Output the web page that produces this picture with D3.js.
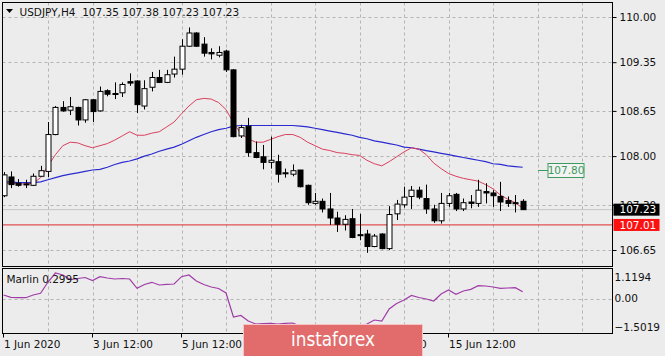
<!DOCTYPE html>
<html><head><meta charset="utf-8">
<script src="https://cdn.jsdelivr.net/npm/d3@7"></script>
<style>
html,body{margin:0;padding:0;background:#ececec;}
svg{display:block;}
text{font-family:"DejaVu Sans",Verdana,sans-serif;}
</style></head><body>
<svg id="c" width="665" height="356"></svg>
<script>
// ---------- data ----------
const barOpen = [107.43,107.70,107.61,107.60,107.58,107.71,107.78,108.31,108.70,108.66,
108.70,108.52,108.81,108.65,108.94,108.90,108.91,109.07,109.08,108.72,
108.99,109.13,109.06,109.18,109.25,109.58,109.77,109.61,109.49,109.45,
109.51,109.24,108.29,108.43,108.05,107.99,107.91,107.92,107.76,107.74,
107.80,107.58,107.32,107.35,107.24,107.11,107.02,107.10,106.87,106.88,
106.70,106.88,106.67,107.17,107.30,107.42,107.51,107.39,107.24,107.07,
107.32,107.45,107.24,107.34,107.32,107.49,107.47,107.42,107.36,107.33,107.35];
const barHigh = [107.77,107.78,107.67,107.66,107.75,107.86,108.49,108.72,108.79,108.85,
108.71,108.82,108.82,109.00,108.96,109.06,109.06,109.19,109.09,109.09,
109.21,109.24,109.24,109.43,109.68,109.85,109.78,109.71,109.55,109.58,
109.53,109.25,108.45,108.55,108.21,108.16,108.28,108.02,107.82,107.88,
107.80,107.59,107.47,107.39,107.47,107.20,107.15,107.24,107.17,106.94,
106.88,106.89,107.28,107.37,107.56,107.57,107.56,107.59,107.30,107.47,
107.47,107.47,107.39,107.44,107.66,107.61,107.51,107.63,107.42,107.44,107.38];
const barLow = [107.41,107.54,107.56,107.54,107.57,107.70,107.70,108.30,108.64,108.59,
108.44,108.48,108.49,108.64,108.86,108.82,108.85,109.01,108.62,108.67,
108.93,109.05,109.05,109.13,109.17,109.57,109.57,109.43,109.39,109.42,
109.21,108.27,108.26,107.99,107.97,107.81,107.82,107.62,107.69,107.71,
107.55,107.30,107.30,107.19,107.01,106.91,106.93,106.82,106.79,106.61,
106.69,106.66,106.65,107.08,107.26,107.24,107.38,107.17,107.04,107.03,
107.27,107.21,107.21,107.25,107.27,107.32,107.27,107.21,107.27,107.19,107.23];
const barClose = [107.73,107.59,107.58,107.59,107.71,107.79,108.31,108.70,108.65,108.71,
108.52,108.81,108.64,108.93,108.89,108.89,109.03,109.05,108.74,108.97,
109.13,109.06,109.17,109.25,109.58,109.77,109.58,109.48,109.47,109.49,
109.24,108.28,108.41,108.05,107.98,107.91,107.94,107.74,107.75,107.79,
107.56,107.33,107.35,107.24,107.11,107.02,107.09,106.83,106.86,106.70,
106.85,106.67,107.16,107.31,107.41,107.51,107.41,107.24,107.07,107.32,
107.43,107.24,107.33,107.32,107.51,107.47,107.43,107.34,107.32,107.32,107.23];
const maFast = [107.61,107.61,107.60,107.60,107.61,107.69,107.86,108.02,108.15,108.20,
108.19,108.15,108.12,108.15,108.18,108.23,108.29,108.35,108.30,108.30,
108.33,108.35,108.42,108.49,108.61,108.72,108.81,108.83,108.82,108.77,
108.67,108.48,108.32,108.25,108.20,108.20,108.24,108.28,108.31,108.31,
108.27,108.20,108.15,108.10,108.08,108.05,108.04,108.02,108.01,107.94,
107.89,107.86,107.92,107.99,108.06,108.12,108.10,108.02,107.90,107.82,
107.75,107.71,107.68,107.66,107.64,107.59,107.53,107.44,107.38,107.33,107.25];
const maSlow = [107.63,107.63,107.62,107.62,107.62,107.63,107.66,107.69,107.72,107.74,
107.76,107.78,107.80,107.81,107.84,107.88,107.91,107.93,107.96,108.00,
108.03,108.07,108.10,108.13,108.17,108.22,108.27,108.31,108.35,108.38,
108.40,108.43,108.44,108.44,108.44,108.44,108.44,108.44,108.44,108.44,
108.43,108.42,108.40,108.38,108.36,108.34,108.32,108.30,108.27,108.25,
108.22,108.20,108.18,108.16,108.13,108.12,108.10,108.08,108.06,108.04,
108.02,108.00,107.98,107.96,107.94,107.92,107.89,107.88,107.86,107.85,107.84];
const marlin = [0.158,0.058,0.040,0.040,0.158,0.233,0.726,1.119,1.032,0.835,
0.879,0.923,0.792,0.958,0.901,0.857,0.879,0.857,0.451,0.617,
0.713,0.595,0.626,0.639,0.958,1.032,0.770,0.617,0.508,0.442,
0.246,-0.803,-0.737,-0.978,-1.109,-1.087,-1.078,-1.109,-1.078,-1.065,
-1.196,-1.327,-1.371,-1.414,-1.458,-1.502,-1.458,-1.371,-1.240,-1.109,
-0.934,-0.978,-0.453,-0.213,-0.060,0.136,0.049,-0.017,-0.104,0.202,
0.377,0.189,0.333,0.407,0.564,0.551,0.508,0.451,0.464,0.477,0.300];
const xTickBars = [0,12,24,36,48,60];
const xTickLabels = ["1 Jun 2020","3 Jun 12:00","5 Jun 12:00","9 Jun 12:00","11 Jun 12:00","15 Jun 12:00"];
const priceTicks = [110.00,109.35,108.65,108.00,107.30,106.65];
const marlinTicks = [1.1194,0.00,-1.5019];
const lastPrice = 107.23, levelPrice = 107.01, markPrice = 107.80, marlinValue = 0.2995;
const titleText = "USDJPY,H4  107.35 107.38 107.23 107.23";
const marlinName = "Marlin";

// ---------- layout ----------
const svg = d3.select("#c");
const main = {l:2.5, r:612.5, t:2.5, b:266.5};
const ind = {l:2.5, r:612.5, t:268.5, b:333.5};
const x = d3.scaleLinear().domain([0,70]).range([3.5,522.7]);
const y = d3.scaleLinear().domain([106.65,110.00]).range([250,17]);
const ym = d3.scaleLinear().domain([-1.5019,1.1194]).range([333,273]);
const gridColor = "#b4b4b4";

svg.append("rect").attr("width",665).attr("height",356).attr("fill","#ececec");

const defs = svg.append("defs");
defs.append("clipPath").attr("id","cm").append("rect")
  .attr("x",main.l).attr("y",main.t).attr("width",main.r-main.l).attr("height",main.b-main.t);
defs.append("clipPath").attr("id","ci").append("rect")
  .attr("x",ind.l).attr("y",ind.t).attr("width",ind.r-ind.l).attr("height",ind.b-ind.t);

// vertical grid (every 6 bars)
const vGrid = d3.range(6, 84, 6).filter(i => x(i) < main.r - 2);
[main, ind].forEach(p => {
  svg.append("g").selectAll("line").data(vGrid).join("line")
    .attr("x1", d => Math.round(x(d))+0.5).attr("x2", d => Math.round(x(d))+0.5)
    .attr("y1", p.t).attr("y2", p.b)
    .attr("stroke", gridColor).attr("stroke-dasharray","3,3").attr("stroke-width",1);
});
// horizontal grid
svg.append("g").selectAll("line").data(priceTicks).join("line")
  .attr("x1", main.l).attr("x2", main.r)
  .attr("y1", d => Math.round(y(d))+0.5).attr("y2", d => Math.round(y(d))+0.5)
  .attr("stroke", gridColor).attr("stroke-dasharray","3,3");
svg.append("line").attr("x1",ind.l).attr("x2",ind.r)
  .attr("y1",Math.round(ym(0))+0.5).attr("y2",Math.round(ym(0))+0.5)
  .attr("stroke",gridColor).attr("stroke-dasharray","3,3");

// price lines
svg.append("line").attr("x1",main.l).attr("x2",main.r)
  .attr("y1",y(lastPrice)).attr("y2",y(lastPrice)).attr("stroke","#c4c4c4").attr("stroke-width",1);
svg.append("line").attr("x1",main.l).attr("x2",main.r)
  .attr("y1",y(levelPrice)).attr("y2",y(levelPrice)).attr("stroke","#e05050").attr("stroke-width",1.3);

// moving averages
const gm = svg.append("g").attr("clip-path","url(#cm)");
const idx = d3.range(barOpen.length);
gm.append("path").datum(idx)
  .attr("d", d3.line().x(i => x(i)).y(i => y(maSlow[i])))
  .attr("fill","none").attr("stroke","#2a2ad0").attr("stroke-width",1.2);
gm.append("path").datum(idx)
  .attr("d", d3.line().x(i => x(i)).y(i => y(maFast[i])))
  .attr("fill","none").attr("stroke","#d8405c").attr("stroke-width",1);

// candles
const cg = gm.append("g").selectAll("g").data(idx).join("g");
cg.append("line")
  .attr("x1", i => Math.round(x(i))+0.5).attr("x2", i => Math.round(x(i))+0.5)
  .attr("y1", i => y(barHigh[i])).attr("y2", i => y(barLow[i]))
  .attr("stroke","#000").attr("stroke-width",1);
cg.append("rect")
  .attr("x", i => Math.round(x(i))-2)
  .attr("width", 5)
  .attr("y", i => Math.min(y(barOpen[i]), y(barClose[i])))
  .attr("height", i => Math.max(1, Math.abs(y(barOpen[i]) - y(barClose[i]))))
  .attr("fill", i => barClose[i] >= barOpen[i] ? "#fff" : "#000")
  .attr("stroke","#000").attr("stroke-width",1);

// marlin
svg.append("g").attr("clip-path","url(#ci)").append("path").datum(idx)
  .attr("d", d3.line().x(i => x(i)).y(i => ym(marlin[i])))
  .attr("fill","none").attr("stroke","#a03ca8").attr("stroke-width",1.2);

// panel borders
[main, ind].forEach(p => {
  svg.append("rect").attr("x",p.l).attr("y",p.t).attr("width",p.r-p.l).attr("height",p.b-p.t)
    .attr("fill","none").attr("stroke","#000").attr("stroke-width",1);
});

// right price axis
const ay = svg.append("g").attr("transform",`translate(${main.r},0)`)
  .call(d3.axisRight(y).tickValues(priceTicks).tickFormat(d3.format(".2f")).tickSize(4).tickPadding(3));
ay.select(".domain").remove();
ay.selectAll("line").attr("stroke","#000");
ay.selectAll("text").attr("font-size",10.5).attr("fill","#111").attr("font-family","DejaVu Sans, sans-serif");

// last price & level boxes
function priceBox(v, bg, fg){
  const g = svg.append("g").attr("transform",`translate(${main.r+1},${y(v)})`);
  g.append("rect").attr("x",0).attr("y",-6).attr("width",46).attr("height",12).attr("fill",bg);
  g.append("text").attr("x",6).attr("y",0).attr("dy","0.36em").attr("font-size",10.5)
    .attr("fill",fg).text(d3.format(".2f")(v));
}
priceBox(lastPrice, "#000", "#fff");
priceBox(levelPrice, "#ff1010", "#fff");

// 107.80 marker label
const mk = svg.append("g").attr("transform",`translate(0,${Math.round(y(markPrice))+0.5})`);
mk.append("line").attr("x1",538).attr("x2",548).attr("y1",0).attr("y2",0).attr("stroke","#3c9a5e");
mk.append("rect").attr("x",548).attr("y",-7).attr("width",36).attr("height",14)
  .attr("fill","#f3f3f3").attr("stroke","#3c9a5e");
mk.append("text").attr("x",566).attr("y",0).attr("dy","0.36em").attr("text-anchor","middle")
  .attr("font-size",10.5).attr("fill","#3c9a5e").text(d3.format(".2f")(markPrice));

// marlin axis labels
svg.append("g").selectAll("text").data(marlinTicks).join("text")
  .attr("x", 614.5)
  .attr("y", d => Math.max(ind.t + 9, Math.min(ind.b - 6, ym(d))))
  .attr("dy","0.36em").attr("font-size",10.5).attr("fill","#111")
  .text(d => d === 0 ? "0.00" : d3.format(".4f")(d));

// bottom time axis
const ax = svg.append("g").attr("transform",`translate(0,${ind.b})`)
  .call(d3.axisBottom(x).tickValues(xTickBars).tickFormat((d,i) => xTickLabels[i]).tickSize(4).tickPadding(3));
ax.select(".domain").remove();
ax.selectAll("line").attr("stroke","#000").attr("transform","translate(-0.5,0)");
ax.selectAll("text").attr("text-anchor","start").attr("font-size",10.5).attr("fill","#111")
  .attr("font-family","DejaVu Sans, sans-serif").attr("x",0);

// title
svg.append("path").attr("d","M6,9 L13,9 L9.5,13 Z").attr("fill","#000");
svg.append("text").attr("x",19.5).attr("y",16).attr("font-size",10.5).attr("fill","#111")
  .attr("xml:space","preserve").style("white-space","pre").text(titleText);

// indicator name
svg.append("text").attr("x",6.5).attr("y",283).attr("font-size",10.5).attr("fill","#111")
  .text(marlinName + " " + d3.format(".4f")(marlinValue));

// watermark
svg.append("rect").attr("x",243.5).attr("y",324.5).attr("width",179).attr("height",34)
  .attr("fill","#e26b6b").attr("stroke","#f6c4c4").attr("stroke-width",1);
svg.append("text").attr("x",333).attr("y",346).attr("text-anchor","middle")
  .attr("font-family","'Noto Sans', 'Open Sans', sans-serif").attr("font-size",20)
  .attr("fill","#fff").attr("textLength",84).attr("lengthAdjust","spacingAndGlyphs").text("instaforex");
</script>
</body></html>
